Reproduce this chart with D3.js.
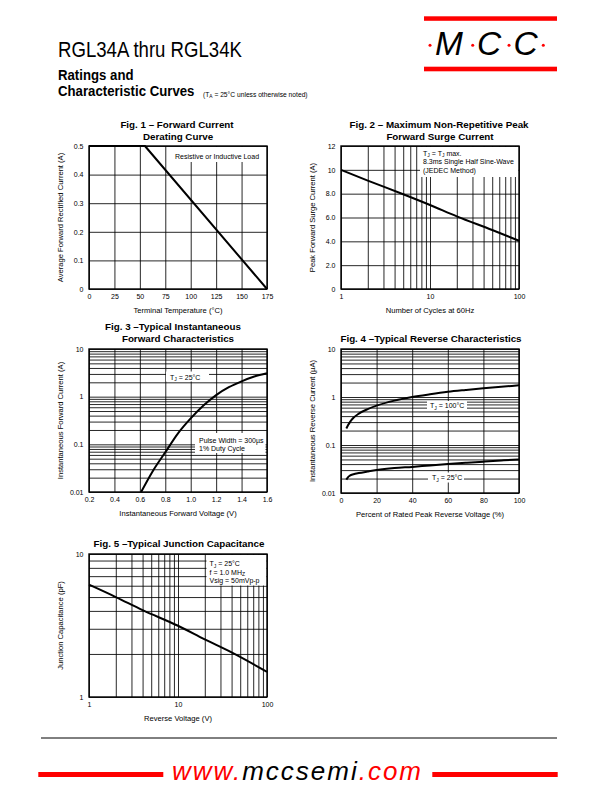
<!DOCTYPE html>
<html><head><meta charset="utf-8">
<script src="https://cdn.jsdelivr.net/npm/d3@7"></script>
<style>
html,body{margin:0;padding:0;background:#fff;}
svg{display:block;font-family:"Liberation Sans",Arial,Helvetica,sans-serif;}
</style></head><body>
<svg id="c" width="612" height="792"></svg>
<script>
// ---------- DATA ----------
// Fig 1 - Forward current derating
const fig1Temp = [0, 55, 175];
const fig1Current = [0.5, 0.5, 0];
const fig1XTicks = [0, 25, 50, 75, 100, 125, 150, 175];
const fig1XLabels = ["0", "25", "50", "75", "100", "125", "150", "175"];
const fig1YTicks = [0, 0.1, 0.2, 0.3, 0.4, 0.5];
const fig1YLabels = ["0", "0.1", "0.2", "0.3", "0.4", "0.5"];

// Fig 2 - Max non-repetitive peak forward surge current
const fig2Cycles = [1, 2, 5, 10, 20, 50, 100];
const fig2Surge = [10, 9.1, 7.95, 7.05, 6.1, 4.95, 4.05];
const fig2XTicks = [1, 10, 100];
const fig2XLabels = ["1", "10", "100"];
const fig2YTicks = [0, 2, 4, 6, 8, 10, 12];
const fig2YLabels = ["0", "2.0", "4.0", "6.0", "8.0", "10", "12"];

// Fig 3 - Typical instantaneous forward characteristics
const fig3Voltage = [0.61, 0.7, 0.8, 0.9, 1.0, 1.1, 1.2, 1.3, 1.4, 1.5, 1.6];
const fig3Current = [0.01, 0.027, 0.068, 0.17, 0.35, 0.65, 1.08, 1.58, 2.1, 2.65, 3.1];
const fig3XTicks = [0.2, 0.4, 0.6, 0.8, 1.0, 1.2, 1.4, 1.6];
const fig3XLabels = ["0.2", "0.4", "0.6", "0.8", "1.0", "1.2", "1.4", "1.6"];
const fig3YTicks = [0.01, 0.1, 1, 10];
const fig3YLabels = ["0.01", "0.1", "1", "10"];

// Fig 4 - Typical reverse characteristics
const fig4Percent = [3, 4, 5, 7, 10, 15, 20, 30, 40, 50, 60, 70, 80, 90, 100];
const fig4Tj100 = [0.22, 0.26, 0.30, 0.37, 0.45, 0.56, 0.66, 0.84, 1.0, 1.14, 1.28, 1.40, 1.52, 1.63, 1.75];
const fig4Tj25 = [0.019, 0.0215, 0.023, 0.0245, 0.026, 0.028, 0.030, 0.033, 0.035, 0.0375, 0.040, 0.0425, 0.045, 0.0475, 0.050];
const fig4XTicks = [0, 20, 40, 60, 80, 100];
const fig4XLabels = ["0", "20", "40", "60", "80", "100"];
const fig4YTicks = [0.01, 0.1, 1, 10];
const fig4YLabels = ["0.01", "0.1", "1", "10"];

// Fig 5 - Typical junction capacitance
const fig5Voltage = [1, 2, 4, 10, 20, 40, 100];
const fig5Cap = [6.1, 5.0, 4.05, 3.15, 2.53, 2.05, 1.5];
const fig5XTicks = [1, 10, 100];
const fig5XLabels = ["1", "10", "100"];
const fig5YTicks = [1, 10];
const fig5YLabels = ["1", "10"];

// ---------- DRAWING ----------
const svg = d3.select("#c");
const RED = "#ff0000";

function richText(g, x, y, parts, size, anchor) {
  const t = g.append("text").attr("x", x).attr("y", y).attr("font-size", size).attr("fill", "#000");
  if (anchor) t.attr("text-anchor", anchor);
  let shifted = false;
  parts.forEach(p => {
    const ts = t.append("tspan").text(p[0]);
    if (p[1] === "sub") {
      ts.attr("font-size", size * 0.72);
      if (!shifted) ts.attr("dy", size * 0.28);
      shifted = true;
    } else if (shifted) {
      ts.attr("dy", -size * 0.28);
      shifted = false;
    }
  });
  return t;
}

function panel(o) {
  const g = svg.append("g");
  const x = (o.xLog ? d3.scaleLog() : d3.scaleLinear()).domain(o.xDomain).range([o.left, o.right]);
  const y = (o.yLog ? d3.scaleLog() : d3.scaleLinear()).domain(o.yDomain).range([o.bottom, o.top]);
  const W = o.right - o.left, H = o.bottom - o.top;
  const xg = o.xLog ? x.ticks() : o.xTicks;
  const yg = o.yLog ? y.ticks() : o.yTicks;

  const gx = g.append("g").attr("transform", `translate(0,${o.bottom})`)
    .call(d3.axisBottom(x).tickValues(xg).tickSize(-H).tickFormat(""));
  gx.select(".domain").remove();
  const gy = g.append("g").attr("transform", `translate(${o.left},0)`)
    .call(d3.axisLeft(y).tickValues(yg).tickSize(-W).tickFormat(""));
  gy.select(".domain").remove();
  g.selectAll(".tick line").attr("stroke", "#000").attr("stroke-width", 0.85);

  (o.boxes || []).forEach(b => g.append("rect").attr("x", b[0]).attr("y", b[1])
    .attr("width", b[2] - b[0]).attr("height", b[3] - b[1]).attr("fill", "#fff"));

  g.append("rect").attr("x", o.left).attr("y", o.top).attr("width", W).attr("height", H)
    .attr("fill", "none").attr("stroke", "#000").attr("stroke-width", 1.4);

  const line = d3.line().x(d => x(d[0])).y(d => y(d[1])).curve(o.curve || d3.curveMonotoneX);
  o.series.forEach(s => g.append("path").datum(d3.zip(s[0], s[1])).attr("d", line)
    .attr("fill", "none").attr("stroke", "#000").attr("stroke-width", 2).attr("stroke-linejoin", "round"));

  // tick labels
  const ax = g.append("g").attr("transform", `translate(0,${o.bottom})`)
    .call(d3.axisBottom(x).tickValues(o.xTicks).tickFormat(d => o.xLabels[o.xTicks.indexOf(d)]).tickSize(0).tickPadding(5.5));
  ax.select(".domain").remove();
  ax.attr("font-family", null).attr("font-size", null);
  ax.selectAll("text").attr("font-size", 7).attr("fill", "#000");
  const ay = g.append("g").attr("transform", `translate(${o.left},0)`)
    .call(d3.axisLeft(y).tickValues(o.yTicks).tickFormat(d => o.yLabels[o.yTicks.indexOf(d)]).tickSize(0).tickPadding(5.5));
  ay.select(".domain").remove();
  ay.attr("font-family", null).attr("font-size", null);
  ay.selectAll("text").attr("font-size", 7).attr("fill", "#000");

  // axis titles
  g.append("text").attr("x", (o.left + o.right) / 2).attr("y", o.bottom + 24)
    .attr("text-anchor", "middle").attr("font-size", 7.6).text(o.xTitle);
  g.append("text").attr("transform", `translate(${o.left - 26},${(o.top + o.bottom) / 2}) rotate(-90)`)
    .attr("text-anchor", "middle").attr("font-size", 7.6).text(o.yTitle);

  // figure titles
  o.titles.forEach(t => g.append("text").attr("x", t[1]).attr("y", t[2]).attr("text-anchor", "middle")
    .attr("font-size", 9.8).attr("font-weight", "bold").text(t[0]));

  // legends
  (o.notes || []).forEach(n => richText(g, n[0], n[1], n[2], 7));
}

// Fig 1
panel({
  left: 89, right: 267, top: 146, bottom: 289,
  xDomain: [0, 175], yDomain: [0, 0.5],
  xTicks: fig1XTicks, xLabels: fig1XLabels, yTicks: fig1YTicks, yLabels: fig1YLabels,
  series: [[fig1Temp, fig1Current]], curve: d3.curveLinear,
  xTitle: "Terminal Temperature (°C)", yTitle: "Average Forward Rectified Current (A)",
  titles: [["Fig. 1 – Forward Current", 177, 128], ["Derating Curve", 178, 139.5]],
  boxes: [[171, 147, 263, 162]],
  notes: [[175, 159, [["Resistive or Inductive Load"]]]]
});

// Fig 2
panel({
  left: 341, right: 519, top: 146, bottom: 289,
  xLog: true, xDomain: [1, 100], yDomain: [0, 12],
  xTicks: fig2XTicks, xLabels: fig2XLabels, yTicks: fig2YTicks, yLabels: fig2YLabels,
  series: [[fig2Cycles, fig2Surge]],
  xTitle: "Number of Cycles at 60Hz", yTitle: "Peak Forward Surge Current (A)",
  titles: [["Fig. 2 – Maximum Non-Repetitive Peak", 439, 128], ["Forward Surge Current", 440, 139.5]],
  boxes: [[420, 147, 518.5, 177]],
  notes: [
    [423, 155.5, [["T"], ["J", "sub"], [" = T"], ["J", "sub"], [" max."]]],
    [423, 164, [["8.3ms Single Half Sine-Wave"]]],
    [423, 172.5, [["(JEDEC Method)"]]]
  ]
});

// Fig 3
panel({
  left: 89, right: 267, top: 349, bottom: 492,
  xDomain: [0.2, 1.6], yLog: true, yDomain: [0.01, 10],
  xTicks: fig3XTicks, xLabels: fig3XLabels, yTicks: fig3YTicks, yLabels: fig3YLabels,
  series: [[fig3Voltage, fig3Current]],
  xTitle: "Instantaneous Forward Voltage (V)", yTitle: "Instantaneous Forward Current (A)",
  titles: [["Fig. 3 –Typical Instantaneous", 173, 329.5], ["Forward Characteristics", 178, 341.5]],
  boxes: [[166, 371.5, 209, 381.5], [195, 433, 265.5, 453]],
  notes: [
    [170, 379.5, [["T"], ["J", "sub"], [" = 25°C"]]],
    [199, 442.5, [["Pulse Width = 300µs"]]],
    [199, 451, [["1% Duty Cycle"]]]
  ]
});

// Fig 4
panel({
  left: 341, right: 519, top: 349, bottom: 493,
  xDomain: [0, 100], yLog: true, yDomain: [0.01, 10],
  xTicks: fig4XTicks, xLabels: fig4XLabels, yTicks: fig4YTicks, yLabels: fig4YLabels,
  series: [[fig4Percent, fig4Tj100], [fig4Percent, fig4Tj25]],
  xTitle: "Percent of Rated Peak Reverse Voltage (%)", yTitle: "Instantaneous Reverse Current (µA)",
  titles: [["Fig. 4 –Typical Reverse Characteristics", 431, 341.5]],
  boxes: [[427, 401, 467, 410], [428, 472.5, 464, 482.5]],
  notes: [
    [430, 408, [["T"], ["J", "sub"], [" = 100°C"]]],
    [432, 480, [["T"], ["J", "sub"], [" = 25°C"]]]
  ]
});

// Fig 5
panel({
  left: 89, right: 267, top: 554, bottom: 697,
  xLog: true, xDomain: [1, 100], yLog: true, yDomain: [1, 10],
  xTicks: fig5XTicks, xLabels: fig5XLabels, yTicks: fig5YTicks, yLabels: fig5YLabels,
  series: [[fig5Voltage, fig5Cap]], curve: d3.curveMonotoneX,
  xTitle: "Reverse Voltage (V)", yTitle: "Junction Capacitance (pF)",
  titles: [["Fig. 5 –Typical Junction Capacitance", 179, 546.5]],
  boxes: [[206.5, 555, 266.5, 585.5]],
  notes: [
    [209.5, 566, [["T"], ["J", "sub"], [" = 25°C"]]],
    [209.5, 574.5, [["f = 1.0 MH"], ["Z", "sub"]]],
    [209.5, 583, [["Vsig = 50mVp-p"]]]
  ]
});

// ---------- HEADER ----------
const hd = svg.append("g");
hd.append("text").attr("transform", "translate(58,56.5) scale(0.845,1)").attr("font-size", 22)
  .text("RGL34A thru RGL34K");
hd.append("text").attr("transform", "translate(58,80.2) scale(0.93,1)").attr("font-size", 14.2).attr("font-weight", "bold")
  .text("Ratings and");
hd.append("text").attr("transform", "translate(58,96.2) scale(0.93,1)").attr("font-size", 14.2).attr("font-weight", "bold")
  .text("Characteristic Curves");
richText(hd, 203, 96.5, [["(T"], ["A", "sub"], [" = 25°C unless otherwise noted)"]], 6.7);

// MCC logo
hd.append("rect").attr("x", 424).attr("y", 16.3).attr("width", 133).attr("height", 4.5).attr("fill", RED);
hd.append("rect").attr("x", 424).attr("y", 66.7).attr("width", 133).attr("height", 4.6).attr("fill", RED);
[["M", 435], ["C", 477], ["C", 513.5]].forEach(l => hd.append("text").attr("x", l[1]).attr("y", 54.7)
  .attr("font-size", 33.5).attr("font-style", "italic").text(l[0]));
[430, 472.7, 509, 543.3].forEach(cx => hd.append("circle").attr("cx", cx).attr("cy", 45.3).attr("r", 1.5).attr("fill", RED));

// ---------- FOOTER ----------
const ft = svg.append("g");
ft.append("line").attr("x1", 41).attr("x2", 557).attr("y1", 738).attr("y2", 738).attr("stroke", "#000").attr("stroke-width", 1);
ft.append("rect").attr("x", 38.3).attr("y", 772).attr("width", 125).attr("height", 5).attr("fill", RED);
ft.append("rect").attr("x", 432.3).attr("y", 772).attr("width", 125.4).attr("height", 5).attr("fill", RED);
const url = ft.append("text").attr("x", 172).attr("y", 780).attr("font-size", 26)
  .attr("font-style", "italic").attr("letter-spacing", 2.0);
url.append("tspan").attr("fill", RED).text("www.");
url.append("tspan").attr("fill", "#000").text("mccsemi");
url.append("tspan").attr("fill", RED).text(".com");
</script>
</body></html>
